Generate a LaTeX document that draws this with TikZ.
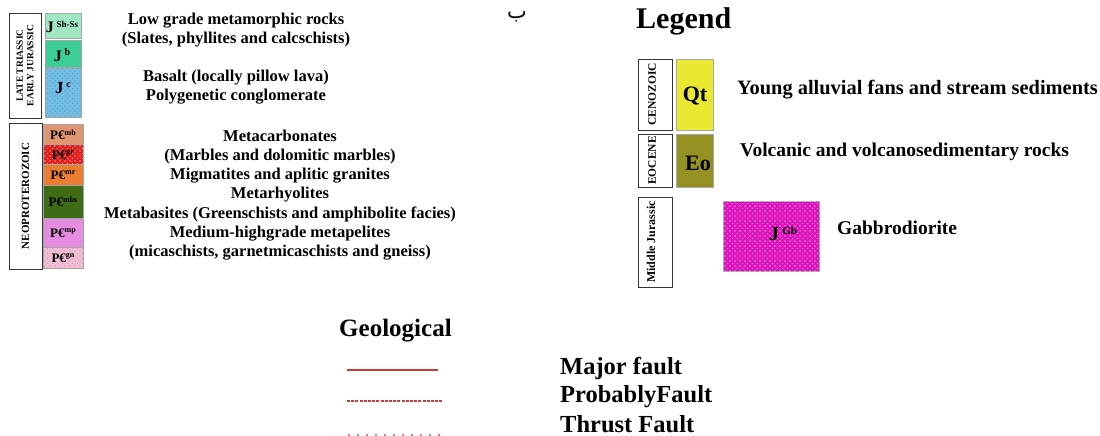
\documentclass[tikz,border=0pt]{standalone}
\usepackage{fontspec}
\setmainfont{Liberation Serif}
\newfontfamily\arabicfont[Script=Arabic]{DejaVu Sans}
\TeXXeTstate=1
\usetikzlibrary{patterns}
\pgfdeclarepatternformonly{sparsedots}{\pgfqpoint{-1pt}{-1pt}}{\pgfqpoint{6pt}{6pt}}{\pgfqpoint{5pt}{5pt}}{%
  \pgfpathcircle{\pgfqpoint{0pt}{0pt}}{0.55pt}%
  \pgfpathcircle{\pgfqpoint{2.6pt}{2.4pt}}{0.45pt}%
  \pgfusepath{fill}}
\definecolor{cjss}{RGB}{160,232,196}
\definecolor{cjb}{RGB}{60,205,150}
\definecolor{cjc}{RGB}{115,190,228}
\definecolor{cjcdot}{RGB}{70,140,190}
\definecolor{cmb}{RGB}{225,150,115}
\definecolor{cgr}{RGB}{228,32,30}
\definecolor{cmr}{RGB}{235,125,50}
\definecolor{cmbs}{RGB}{62,108,22}
\definecolor{cmp}{RGB}{230,140,225}
\definecolor{cgn}{RGB}{240,192,215}
\definecolor{cgndot}{RGB}{215,120,160}
\definecolor{cqt}{RGB}{235,232,50}
\definecolor{ceo}{RGB}{150,145,35}
\definecolor{cgb}{RGB}{222,20,190}
\definecolor{cfault}{RGB}{200,60,60}
\definecolor{cthrust}{RGB}{225,120,120}
\newcommand{\fs}[2]{\fontsize{#1}{#2}\selectfont}
\newcommand{\supl}[2]{{\fontsize{#1}{#1}\selectfont\raisebox{0.55em}{#2}}}
\begin{document}
\begin{tikzpicture}[x=1pt,y=-1pt,
  agebox/.style={draw=black!80, line width=0.6pt, fill=white, inner sep=0pt, outer sep=0pt, anchor=north west},
  unitbox/.style={draw=black!35, line width=0.4pt, inner sep=0pt, outer sep=0pt, anchor=north west, font=\bfseries},
  dotsfill/.style={postaction={pattern=sparsedots, pattern color=#1}},
  dotsfill/.default=white,
  agetext/.style={rotate=90, align=center, inner sep=0pt},
  desc/.style={font=\bfseries\fs{16.5}{19.3}, align=center, inner sep=0pt},
  rdesc/.style={anchor=west, inner sep=0pt},
  majorfault/.style={draw=cfault, line width=1.6pt},
  probfault/.style={draw=cfault, line width=1.1pt, dash pattern=on 3pt off 1.2pt},
  thrustfault/.style={draw=cthrust, line width=2.2pt, dash pattern=on 1.5pt off 7.5pt}
]
\useasboundingbox (0,0) rectangle (1100,436);

% ---------- upper left column ----------
\node[agebox, minimum width=32pt, minimum height=105pt] (ltej) at (9,13) {};
\node[agetext, font=\bfseries\fs{9.5}{10.5}] (ltejt) at (ltej.center) {LATE TRIASSIC\\EARLY JURASSIC};
\node[unitbox, fill=cjss, minimum width=36pt, minimum height=25pt] (jss) at (45,13) {};
\node[font=\bfseries\fs{16}{16}, inner sep=0pt] (jsst) at (62,27) {J\,\supl{9}{Sh-Ss}};
\node[unitbox, fill=cjb, minimum width=36pt, minimum height=27pt] (jb) at (45,40) {};
\node[font=\bfseries\fs{16}{16}, inner sep=0pt] (jbt) at (62,55) {J\,\supl{10}{b}};
\node[unitbox, fill=cjc, dotsfill=cjcdot, minimum width=36pt, minimum height=49pt] (jc) at (45,68) {};
\node[font=\bfseries\fs{17}{17}, inner sep=0pt] (jct) at (63,88) {J\,\supl{10}{c}};

\node[desc] (d1) at (236,30) {Low grade metamorphic rocks\\(Slates, phyllites and calcschists)};
\node[desc] (d2) at (236,87) {Basalt (locally pillow lava)\\Polygenetic conglomerate};

% ---------- lower left column ----------
\node[agebox, minimum width=33pt, minimum height=146pt] (neo) at (9,123) {};
\node[agetext, font=\bfseries\fs{11}{12}] (neot) at (neo.center) {NEOPROTEROZOIC};
\node[unitbox, fill=cmb, minimum width=40pt, minimum height=20pt] (mb) at (43,124) {};
\node[font=\bfseries\fs{13}{13}, inner sep=0pt] (mbt) at (63,135) {P€\supl{8}{mb}};
\node[unitbox, fill=cgr, dotsfill, minimum width=40pt, minimum height=20pt] (gr) at (43,144) {};
\node[font=\bfseries\fs{13}{13}, inner sep=0pt] (grt) at (63,155) {P€\supl{8}{gr}};
\node[unitbox, fill=cmr, minimum width=40pt, minimum height=21pt] (mr) at (43,164) {};
\node[font=\bfseries\fs{13}{13}, inner sep=0pt] (mrt) at (63,175) {P€\supl{8}{mr}};
\node[unitbox, fill=cmbs, minimum width=40pt, minimum height=33pt] (mbs) at (43,185) {};
\node[font=\bfseries\fs{13}{13}, inner sep=0pt] (mbst) at (63,202) {P€\supl{8}{mbs}};
\node[unitbox, fill=cmp, minimum width=40pt, minimum height=29pt] (mp) at (43,218) {};
\node[font=\bfseries\fs{13}{13}, inner sep=0pt] (mpt) at (63,233) {P€\supl{8}{mp}};
\node[unitbox, fill=cgn, dotsfill=cgndot, minimum width=40pt, minimum height=21pt] (gn) at (43,247) {};
\node[font=\bfseries\fs{13}{13}, inner sep=0pt] (gnt) at (63,258) {P€\supl{8}{gn}};

\node[desc] (d3) at (280,195) {Metacarbonates\\(Marbles and dolomitic marbles)\\Migmatites and aplitic granites\\Metarhyolites\\Metabasites (Greenschists and amphibolite facies)\\Medium-highgrade metapelites\\(micaschists, garnetmicaschists and gneiss)};

% ---------- arabic letter ----------
\node[font=\arabicfont\fs{21}{21}, inner sep=0pt, anchor=base] (ba) at (517,19) {\beginR ب\endR};

% ---------- right legend ----------
\node[font=\bfseries\fs{30}{30}, anchor=west, inner sep=0pt] (leg) at (636,21) {Legend};

\node[agebox, minimum width=34pt, minimum height=71pt] (ceno) at (638,59) {};
\node[agetext, font=\bfseries\fs{11.5}{12}] (cenot) at ([xshift=-3pt]ceno.center) {CENOZOIC};
\node[unitbox, fill=cqt, minimum width=37pt, minimum height=71pt] (qt) at (676,59) {};
\node[font=\bfseries\fs{22}{22}, inner sep=0pt] (qtt) at (695,96) {Qt};
\node[rdesc, font=\bfseries\fs{20.4}{24}] (d4) at (737,90) {Young alluvial fans and stream sediments};

\node[agebox, minimum width=34pt, minimum height=53pt] (eoc) at (638,134) {};
\node[agetext, font=\bfseries\fs{11.5}{12}] (eoct) at ([xshift=-3pt]eoc.center) {EOCENE};
\node[unitbox, fill=ceo, minimum width=37pt, minimum height=53pt] (eo) at (676,134) {};
\node[font=\bfseries\fs{22}{22}, inner sep=0pt] (eot) at (698,163) {Eo};
\node[rdesc, font=\bfseries\fs{19.5}{24}] (d5) at (740,152) {Volcanic and volcanosedimentary rocks};

\node[agebox, minimum width=34pt, minimum height=90pt] (mj) at (638,197) {};
\node[agetext, font=\bfseries\fs{12}{12}] (mjt) at ([xshift=-4pt]mj.center) {Middle Jurassic};
\node[unitbox, fill=cgb, dotsfill, minimum width=96pt, minimum height=70pt] (gb) at (723,201) {};
\node[font=\bfseries\fs{20}{20}, inner sep=0pt] (gbt) at (783,234) {J\,\supl{11}{Gb}};
\node[rdesc, font=\bfseries\fs{19.5}{22}] (d6) at (837,228) {Gabbrodiorite};

% ---------- geological ----------
\node[font=\bfseries\fs{25}{25}, anchor=west, inner sep=0pt] (geo) at (339,331) {Geological};

\coordinate (mf1) at (347,370); \coordinate (mf2) at (438,370);
\coordinate (pf1) at (347,401); \coordinate (pf2) at (443,401);
\coordinate (tf1) at (348,435); \coordinate (tf2) at (441,435);
\draw[majorfault] (mf1) -- (mf2);
\draw[probfault] (pf1) -- (pf2);
\draw[thrustfault] (tf1) -- (tf2);

\node[font=\bfseries\fs{24.5}{24.5}, anchor=west, inner sep=0pt] (l1) at (560,368) {Major fault};
\node[font=\bfseries\fs{24.5}{24.5}, anchor=west, inner sep=0pt] (l2) at (560,397) {ProbablyFault};
\node[font=\bfseries\fs{24.5}{24.5}, anchor=west, inner sep=0pt] (l3) at (560,424) {Thrust Fault};
\end{tikzpicture}
\end{document}
